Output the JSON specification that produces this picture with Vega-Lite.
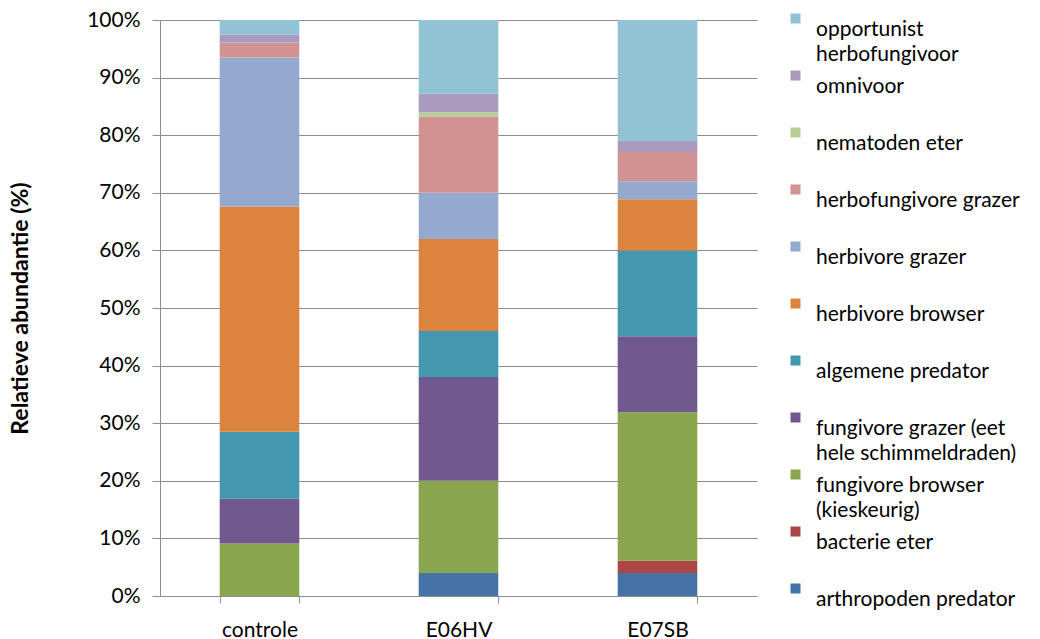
{
  "$schema": "https://vega.github.io/schema/vega-lite/v6.json",
  "autosize": {"type": "none"},
  "width": 597,
  "height": 576,
  "padding": {"left": 160, "top": 20, "right": 283, "bottom": 43},
  "background": "white",
  "config": {
    "view": {"stroke": null},
    "font": "Lato",
    "axis": {"labelFont": "Lato", "titleFont": "Lato", "labelColor": "#000", "titleColor": "#000"},
    "legend": {"labelFont": "Lato", "labelColor": "#000"}
  },
  "data": {
    "values": [
      {"sample": "controle", "group": "arthropoden predator", "value": 0},
      {"sample": "controle", "group": "bacterie eter", "value": 0},
      {"sample": "controle", "group": "fungivore browser (kieskeurig)", "value": 9.1},
      {"sample": "controle", "group": "fungivore grazer (eet hele schimmeldraden)", "value": 7.8},
      {"sample": "controle", "group": "algemene predator", "value": 11.6},
      {"sample": "controle", "group": "herbivore browser", "value": 39.1},
      {"sample": "controle", "group": "herbivore grazer", "value": 25.9},
      {"sample": "controle", "group": "herbofungivore grazer", "value": 2.6},
      {"sample": "controle", "group": "nematoden eter", "value": 0},
      {"sample": "controle", "group": "omnivoor", "value": 1.4},
      {"sample": "controle", "group": "opportunist herbofungivoor", "value": 2.5},
      {"sample": "E06HV", "group": "arthropoden predator", "value": 4},
      {"sample": "E06HV", "group": "bacterie eter", "value": 0},
      {"sample": "E06HV", "group": "fungivore browser (kieskeurig)", "value": 16},
      {"sample": "E06HV", "group": "fungivore grazer (eet hele schimmeldraden)", "value": 18},
      {"sample": "E06HV", "group": "algemene predator", "value": 8},
      {"sample": "E06HV", "group": "herbivore browser", "value": 16},
      {"sample": "E06HV", "group": "herbivore grazer", "value": 8},
      {"sample": "E06HV", "group": "herbofungivore grazer", "value": 13.2},
      {"sample": "E06HV", "group": "nematoden eter", "value": 0.8},
      {"sample": "E06HV", "group": "omnivoor", "value": 3.2},
      {"sample": "E06HV", "group": "opportunist herbofungivoor", "value": 12.8},
      {"sample": "E07SB", "group": "arthropoden predator", "value": 4},
      {"sample": "E07SB", "group": "bacterie eter", "value": 2.1},
      {"sample": "E07SB", "group": "fungivore browser (kieskeurig)", "value": 25.8},
      {"sample": "E07SB", "group": "fungivore grazer (eet hele schimmeldraden)", "value": 13.2},
      {"sample": "E07SB", "group": "algemene predator", "value": 14.9},
      {"sample": "E07SB", "group": "herbivore browser", "value": 8.9},
      {"sample": "E07SB", "group": "herbivore grazer", "value": 3.1},
      {"sample": "E07SB", "group": "herbofungivore grazer", "value": 5.1},
      {"sample": "E07SB", "group": "nematoden eter", "value": 0},
      {"sample": "E07SB", "group": "omnivoor", "value": 1.9},
      {"sample": "E07SB", "group": "opportunist herbofungivoor", "value": 21.0}
    ]
  },
  "transform": [
    {"calculate": "indexof(['arthropoden predator','bacterie eter','fungivore browser (kieskeurig)','fungivore grazer (eet hele schimmeldraden)','algemene predator','herbivore browser','herbivore grazer','herbofungivore grazer','nematoden eter','omnivoor','opportunist herbofungivoor'], datum.group)", "as": "rank"}
  ],
  "mark": {"type": "bar"},
  "encoding": {
    "x": {
      "field": "sample", "type": "nominal", "sort": null,
      "scale": {"paddingInner": 0.6, "paddingOuter": 0.3},
      "axis": {"title": null, "labelAngle": 0, "labelFontSize": 21, "labelPadding": 16, "tickBand": "extent", "tickSize": 7, "tickColor": "#8c8c8c", "domainColor": "#8c8c8c", "labelBaseline": "top"}
    },
    "y": {
      "field": "value", "type": "quantitative", "stack": "normalize",
      "scale": {"domain": [0, 1], "nice": false},
      "axis": {"title": "Relatieve abundantie (%)", "titleFontSize": 23, "titleFontWeight": "bold", "titlePadding": 54, "format": ".0%", "values": [0,0.1,0.2,0.3,0.4,0.5,0.6,0.7,0.8,0.9,1], "labelOverlap": false, "labelFontSize": 21, "labelPadding": 12, "tickSize": 8, "tickColor": "#8c8c8c", "domainColor": "#8c8c8c", "gridColor": "#8c8c8c", "grid": true}
    },
    "color": {
      "field": "group", "type": "nominal",
      "scale": {
        "domain": ["opportunist herbofungivoor","omnivoor","nematoden eter","herbofungivore grazer","herbivore grazer","herbivore browser","algemene predator","fungivore grazer (eet hele schimmeldraden)","fungivore browser (kieskeurig)","bacterie eter","arthropoden predator"],
        "range": ["#92C3D5","#A99BBD","#B9CD96","#D19392","#95A9CF","#DB843D","#4398AF","#71588F","#89A54E","#AA4643","#4572A7"]
      },
      "legend": {
        "title": null, "orient": "none", "legendX": 625, "legendY": -12, "padding": 0,
        "symbolType": "square", "symbolSize": 100, "symbolStrokeWidth": 0,
        "labelFontSize": 21, "labelOffset": 10, "labelLimit": 300, "labelBaseline": "top",
        "rowPadding": 0,
        "labelExpr": "datum.label == 'opportunist herbofungivoor' ? ['opportunist','herbofungivoor'] : datum.label == 'fungivore grazer (eet hele schimmeldraden)' ? ['fungivore grazer (eet','hele schimmeldraden)'] : datum.label == 'fungivore browser (kieskeurig)' ? ['fungivore browser','(kieskeurig)'] : [datum.label, '']",
        "encode": {"labels": {"update": {"lineHeight": {"value": 25.5}}}}
      }
    },
    "order": {"field": "rank", "type": "quantitative", "sort": "ascending"}
  }
}
